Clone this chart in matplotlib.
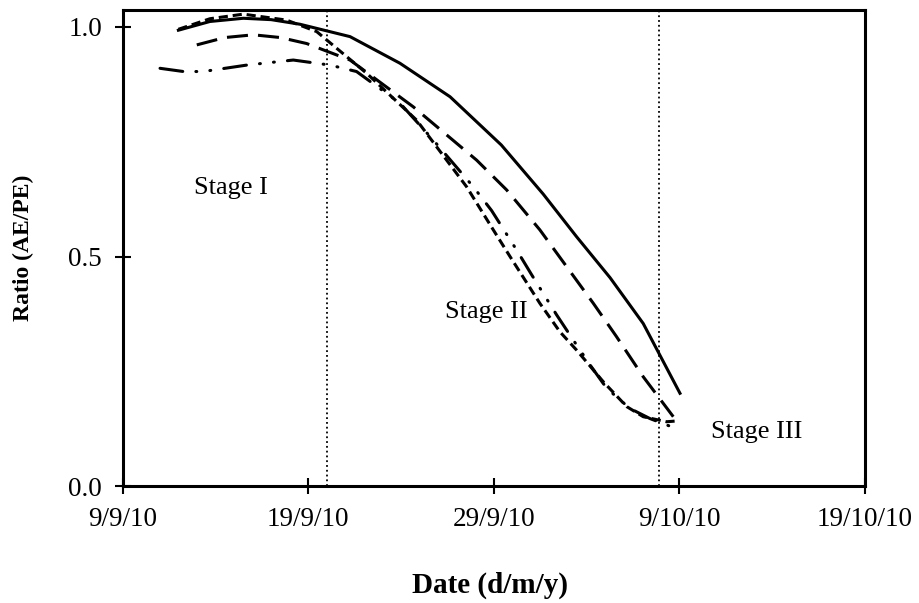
import matplotlib as mpl; mpl.use('Agg')
import matplotlib.pyplot as plt
import numpy as np
import pandas as pd

plt.rcParams['font.family'] = ['Liberation Serif', 'DejaVu Serif']

start = pd.Timestamp('2010-09-09')

# days after 9/9/10, ratio AE/PE
solidDays = [3.0, 4.7, 6.5, 8.0, 9.55, 12.25, 14.94, 17.64, 20.4, 22.66, 24.46, 26.26, 28.05, 30.03]
solidRatio = [0.993, 1.012, 1.019, 1.016, 1.006, 0.979, 0.921, 0.848, 0.743, 0.636, 0.543, 0.454, 0.354, 0.202]

longDays = [3.99, 5.5, 7.04, 8.5, 9.91, 12.25, 15.66, 19.07, 20.69, 22.48, 23.92, 25.36, 26.6, 28.05, 29.67]
longRatio = [0.961, 0.977, 0.983, 0.977, 0.964, 0.928, 0.826, 0.710, 0.645, 0.558, 0.478, 0.398, 0.326, 0.238, 0.151]

shortDays = [3.0, 4.7, 6.5, 8.83, 10.45, 13.15, 15.84, 18.53, 19.97, 20.87, 22.48, 23.56, 24.46, 25.9, 27.16, 28.05, 29.31, 29.94]
shortRatio = [0.995, 1.018, 1.028, 1.015, 0.990, 0.899, 0.797, 0.652, 0.558, 0.500, 0.398, 0.336, 0.296, 0.227, 0.173, 0.151, 0.140, 0.142]

ddotDays = [2.01, 3.27, 4.34, 6.68, 9.19, 11.17, 12.6, 14.94, 16.73, 18.89, 19.88, 21.23, 22.04, 23.38, 24.28, 25.18, 26.08, 27.33, 28.41, 29.31, 29.94]
ddotRatio = [0.910, 0.903, 0.903, 0.917, 0.928, 0.917, 0.903, 0.834, 0.754, 0.652, 0.600, 0.514, 0.460, 0.373, 0.318, 0.264, 0.213, 0.169, 0.147, 0.133, 0.124]

stageDays = [11.0, 28.9]  # dotted stage borders
tickDays = [0, 10, 20, 30, 40]
tickLabels = ['9/9/10', '19/9/10', '29/9/10', '9/10/10', '19/10/10']

def toDate(d):
    return start + pd.to_timedelta(np.array(d), unit='D')

fig = plt.figure(figsize=(9.2, 6.03), dpi=100)
ax = fig.add_axes([0.1334, 0.194, 0.8068, 0.7894])

lw = 2.2
ax.plot(toDate(solidDays), solidRatio, color='black', lw=lw, ls='-')
ax.plot(toDate(longDays), longRatio, color='black', lw=lw, ls=(0, (6.9, 3.3)))
ax.plot(toDate(shortDays), shortRatio, color='black', lw=lw, ls=(0, (3.0, 1.6)))
ax.plot(toDate(ddotDays), ddotRatio, color='black', lw=lw, ls=(0, (7.5, 4.3, 0.3, 4.3, 0.3, 4.3)),
        dash_capstyle='round')

for d in stageDays:
    ax.axvline(toDate([d])[0], color='black', lw=1.3, ls=':')

ax.text(toDate([5.82])[0], 0.649, 'Stage I', fontsize=19, ha='center', va='center')
ax.text(toDate([19.57])[0], 0.379, 'Stage II', fontsize=19, ha='center', va='center')
ax.text(toDate([34.15])[0], 0.118, 'Stage III', fontsize=19, ha='center', va='center')

ax.set_xlim(toDate([0])[0], toDate([40])[0])
ax.set_ylim(0, 1.037)
ax.set_xticks(toDate(tickDays))
ax.set_xticklabels(tickLabels)
ax.set_yticks([0.0, 0.5, 1.0])
ax.set_yticklabels(['0.0', '0.5', '1.0'])
ax.tick_params(direction='inout', length=12, width=1.5, labelsize=19.5, pad=9)

for s in ax.spines.values():
    s.set_linewidth(2.2)

fig.text(0.5326, 0.030, 'Date (d/m/y)', fontsize=21, fontweight='bold', ha='center', va='center')
fig.text(0.025, 0.5896, 'Ratio (AE/PE)', fontsize=17, fontweight='bold', ha='center', va='center', rotation=90)

plt.savefig('out.png', dpi=100)
